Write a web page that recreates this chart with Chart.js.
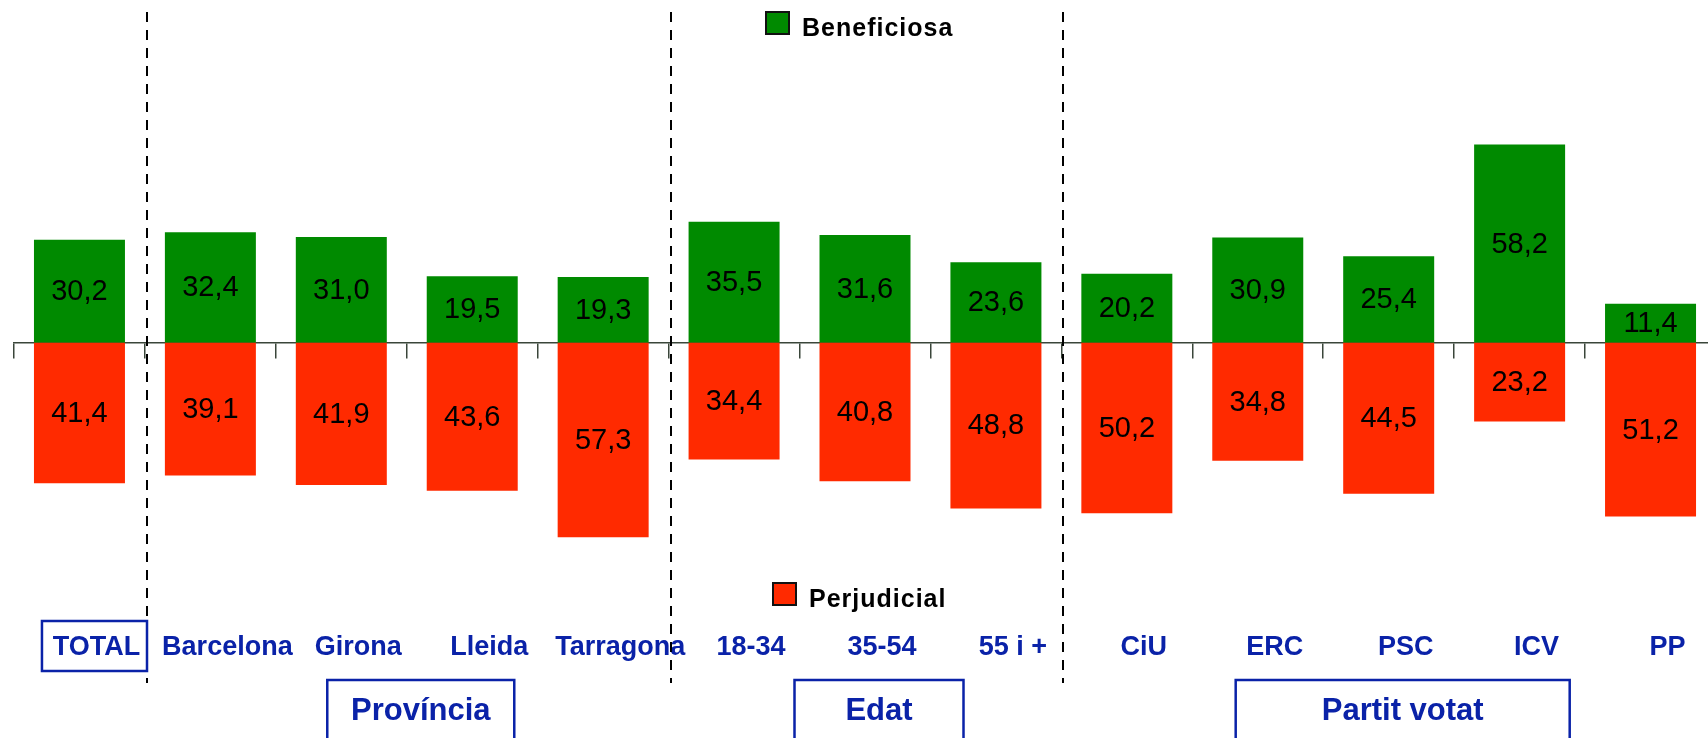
<!DOCTYPE html>
<html>
<head>
<meta charset="utf-8">
<script src="https://cdn.jsdelivr.net/npm/chart.js@4.4.1/dist/chart.umd.min.js"></script>
<style>
  html, body { margin: 0; padding: 0; background: #fff; overflow: hidden; }
  #wrap { position: relative; width: 1730px; height: 738px; }
</style>
</head>
<body>
<div id="wrap"><canvas id="chart"></canvas></div>
<script>
// Data
const categories = ['TOTAL', 'Barcelona', 'Girona', 'Lleida', 'Tarragona', '18-34', '35-54', '55 i +', 'CiU', 'ERC', 'PSC', 'ICV', 'PP'];
const beneficiosa = [30.2, 32.4, 31.0, 19.5, 19.3, 35.5, 31.6, 23.6, 20.2, 30.9, 25.4, 58.2, 11.4];
const perjudicial = [41.4, 39.1, 41.9, 43.6, 57.3, 34.4, 40.8, 48.8, 50.2, 34.8, 44.5, 23.2, 51.2];
const groupNames = ['Província', 'Edat', 'Partit votat'];
const groupFirst = [1, 5, 8];
const groupLast = [4, 7, 12];
const dividerAfter = [0, 4, 7];

// Styles
const GREEN = '#008a00';
const RED = '#ff2a00';
const BLUE = '#0a22a8';
const AXIS = '#3a463a';
const FONT = "'Liberation Sans', Arial, sans-serif";
const groupBoxWidth = [187, 169, 334];
const legendSpots = [{ x: 766, y: 12, textY: 36 }, { x: 773, y: 583, textY: 607 }];

Chart.defaults.font.family = FONT;

// numbers inside the bars
const valueLabels = {
    id: 'valueLabels',
    afterDatasetsDraw(chart) {
        const ctx = chart.ctx;
        ctx.save();
        ctx.font = '29px ' + FONT;
        ctx.fillStyle = '#000';
        ctx.textAlign = 'center';
        ctx.textBaseline = 'middle';
        chart.data.datasets.forEach((ds, i) => {
            chart.getDatasetMeta(i).data.forEach((bar, j) => {
                const txt = Math.abs(ds.data[j]).toFixed(1).replace('.', ',');
                ctx.fillText(txt, bar.x, (bar.y + bar.base) / 2 + 1);
            });
        });
        ctx.restore();
    }
};

// dashed separators, boxes and the two legend entries
const decorations = {
    id: 'decorations',
    afterDraw(chart) {
        const ctx = chart.ctx;
        const x = chart.scales.x;
        const step = x.getPixelForValue(1) - x.getPixelForValue(0);
        ctx.save();

        ctx.strokeStyle = '#000';
        ctx.lineWidth = 2;
        ctx.setLineDash([10, 8]);
        const sepX = dividerAfter.map(i => Math.round(x.getPixelForValue(i) + step / 2) + 2);
        sepX.forEach(px => {
            ctx.beginPath();
            ctx.moveTo(px, 12);
            ctx.lineTo(px, 683);
            ctx.stroke();
        });
        ctx.setLineDash([]);

        // box round TOTAL
        ctx.strokeStyle = BLUE;
        ctx.lineWidth = 2.5;
        const left = x.getPixelForValue(0) - 37.5;
        ctx.strokeRect(left, 621, sepX[0] - left, 50);

        // group boxes
        ctx.font = 'bold 31px ' + FONT;
        ctx.fillStyle = BLUE;
        ctx.textAlign = 'center';
        ctx.textBaseline = 'middle';
        groupNames.forEach((name, g) => {
            const cx = (x.getPixelForValue(groupFirst[g]) + x.getPixelForValue(groupLast[g])) / 2 + 14;
            const w = groupBoxWidth[g];
            ctx.strokeRect(cx - w / 2, 680, w, 80);
            ctx.fillText(name, cx, 711);
        });

        // legend
        ctx.textAlign = 'left';
        ctx.textBaseline = 'alphabetic';
        ctx.font = 'bold 25px ' + FONT;
        ctx.letterSpacing = '1px';
        chart.data.datasets.forEach((ds, i) => {
            const s = legendSpots[i];
            ctx.fillStyle = ds.backgroundColor;
            ctx.fillRect(s.x, s.y, 23, 22);
            ctx.strokeStyle = '#111';
            ctx.lineWidth = 2;
            ctx.strokeRect(s.x, s.y, 23, 22);
            ctx.fillStyle = '#000';
            ctx.fillText(ds.label, s.x + 36, s.textY);
        });
        ctx.restore();
    }
};

new Chart(document.getElementById('chart'), {
    type: 'bar',
    data: {
        labels: categories,
        datasets: [{
            label: 'Beneficiosa',
            data: beneficiosa,
            backgroundColor: GREEN
        }, {
            label: 'Perjudicial',
            data: perjudicial.map(v => -v),
            backgroundColor: RED
        }]
    },
    options: {
        responsive: true,
        maintainAspectRatio: false,
        animation: false,
        devicePixelRatio: 1,
        barPercentage: 0.695,
        categoryPercentage: 1,
        layout: { padding: { left: 14, right: 14, top: 2.5, bottom: 0 } },
        plugins: {
            legend: { display: false },
            tooltip: { enabled: false }
        },
        scales: {
            x: {
                type: 'category',
                position: { y: 0 },
                stacked: true,
                offset: true,
                z: 1,
                grid: { offset: true, drawOnChartArea: false, tickLength: 15, color: AXIS, lineWidth: 1.5 },
                border: { display: true, color: AXIS, width: 1.5 },
                ticks: { display: false }
            },
            xl: {
                type: 'category',
                axis: 'x',
                position: 'bottom',
                offset: true,
                grid: { display: false, drawTicks: false },
                border: { display: false },
                ticks: {
                    color: BLUE,
                    font: { size: 27, weight: 'bold' },
                    padding: 17,
                    labelOffset: 17,
                    autoSkip: false,
                    maxRotation: 0
                },
                afterFit(scale) { scale.height = 123.5; }
            },
            y: {
                display: false,
                stacked: true,
                min: -80,
                max: 100
            }
        }
    },
    plugins: [valueLabels, decorations]
});
</script>
</body>
</html>
